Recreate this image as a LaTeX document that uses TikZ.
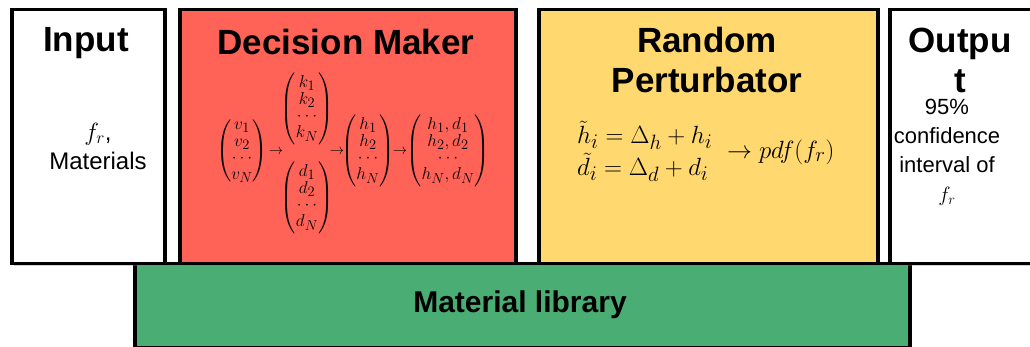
\documentclass[tikz,border=0pt]{standalone}
\usepackage{amsmath}
\usepackage{fontspec}
\setsansfont{Liberation Sans}
\usetikzlibrary{shadows}
\definecolor{dmred}{HTML}{FF6257}
\definecolor{rpyellow}{HTML}{FFD86F}
\definecolor{libgreen}{HTML}{4AAD73}
\tikzset{
  panel/.style={draw=black, line width=3.5pt, anchor=north west, inner sep=0pt,
    drop shadow={shadow xshift=2pt, shadow yshift=-2pt, opacity=0.35}},
  title/.style={font=\sffamily\bfseries\fontsize{35}{39}\selectfont, align=center},
  body/.style={font=\sffamily\fontsize{24}{29}\selectfont, align=center},
  dmmath/.style={font=\fontsize{19}{16.5}\selectfont, inner sep=0pt},
  dmarrow/.style={font=\fontsize{15}{16}\selectfont, inner sep=0pt},
  rpmath/.style={font=\fontsize{29}{32}\selectfont, inner sep=0pt}
}
\begin{document}
\begin{tikzpicture}[x=1pt,y=-1pt]
\useasboundingbox (0,0) rectangle (1030,347);
\clip (0,0) rectangle (1030,347);
% library (behind)
\node[panel, fill=libgreen, minimum width=775, minimum height=84] (lib) at (133,262) {};
\node[font=\sffamily\bfseries\fontsize{30}{34}\selectfont] (libt) at (520,305) {Material library};
% top panels
\node[panel, fill=white, minimum width=153, minimum height=254] (in) at (10,8) {};
\node[panel, fill=dmred, minimum width=336, minimum height=254] (dm) at (178,8) {};
\node[panel, fill=rpyellow, minimum width=339, minimum height=254] (rp) at (537,8) {};
\node[panel, fill=white, minimum width=160, minimum height=254] (out) at (888,8) {};
% titles
\node[title] (int) at (86,43) {Input};
\node[title] (dmt) at (346,42) {Decision Maker};
\node[title, font=\sffamily\bfseries\fontsize{35}{40}\selectfont] (rpt) at (707,60) {Random\\Perturbator};
\node[title, font=\sffamily\bfseries\fontsize{35}{40}\selectfont] (outt) at (960,60) {Outpu\\t};
% input body
\node[body] (inb) at (98,146) {$f_r$,\\Materials};
% output body
\node[body, font=\sffamily\fontsize{22}{29}\selectfont] (outb) at (947,152) {95\%\\confidence\\interval of\\$f_r$};
% decision maker math
\node[dmmath] (v) at (242,151) {$\begin{pmatrix} v_1\\ v_2\\ \cdots\\ v_N\end{pmatrix}$};
\node[dmarrow] (a1) at (276,152) {$\rightarrow$};
\node[dmmath] (k) at (307,109) {$\begin{pmatrix} k_1\\ k_2\\ \cdots\\ k_N\end{pmatrix}$};
\node[dmmath] (d) at (307,198) {$\begin{pmatrix} d_1\\ d_2\\ \cdots\\ d_N\end{pmatrix}$};
\node[dmarrow] (a2) at (337,152) {$\rightarrow$};
\node[dmmath] (h) at (368,151) {$\begin{pmatrix} h_1\\ h_2\\ \cdots\\ h_N\end{pmatrix}$};
\node[dmarrow] (a3) at (400,152) {$\rightarrow$};
\node[dmmath] (hd) at (448,151) {$\begin{pmatrix} h_1,d_1\\ h_2,d_2\\ \cdots\\ h_N,d_N\end{pmatrix}$};
% perturbator math
\node[rpmath, anchor=west] (eqs) at (577,153) {$\renewcommand{\arraystretch}{0.95}\begin{array}{@{}l@{}}\tilde{h}_i=\Delta_h+h_i\\ \tilde{d}_i=\Delta_d+d_i\end{array}$};
\node[rpmath, anchor=west] (pdf) at (727,152) {$\rightarrow pdf(f_r)$};
\end{tikzpicture}
\end{document}
